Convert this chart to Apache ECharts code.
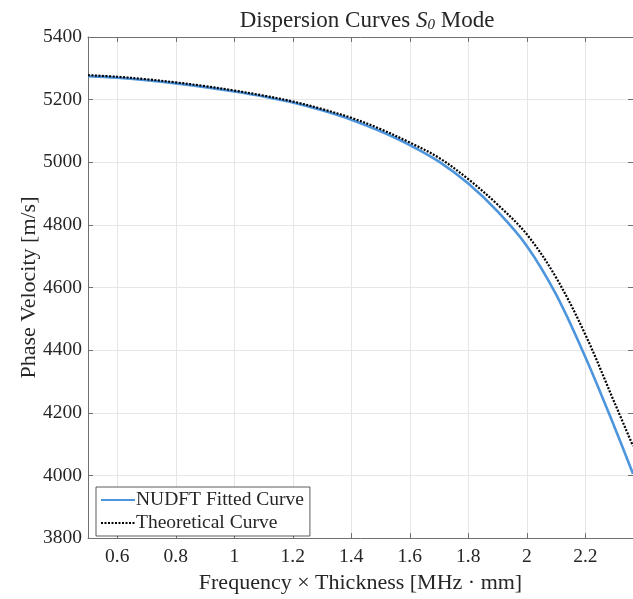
<!DOCTYPE html>
<html>
<head>
<meta charset="utf-8">
<script src="https://cdn.jsdelivr.net/npm/echarts@6/dist/echarts.min.js"></script>
<style>html,body{margin:0;padding:0;background:#fff}#c{width:633px;height:599px}</style>
</head>
<body>
<div id="c"></div>
<script>
const freqThickness = [0.5,0.6,0.7,0.8,0.9,1.0,1.1,1.2,1.3,1.4,1.5,1.6,1.7,1.8,1.9,2.0,2.1,2.2,2.3,2.363];
const nudftFitted = [5275,5270,5262,5252,5240,5226,5210,5191,5166,5136,5099,5055,5002,4932,4843,4733,4578,4378,4154,4005];
const theoretical = [5278,5273,5265,5255,5243,5229,5213,5194,5170,5142,5106,5063,5014,4946,4865,4770,4632,4450,4232,4094];
const xTicks = [0.6,0.8,1,1.2,1.4,1.6,1.8,2,2.2];
const yMin = 3800, yMax = 5400, yStep = 200;
const xMin = 0.5, xMax = 2.363;

const FONT = '"Liberation Serif", "DejaVu Serif", serif';
const axisColor = '#707070';
const textColor = '#262626';
const gridColor = '#e6e6e6';

const chart = echarts.init(document.getElementById('c'), null, {renderer: 'canvas'});
const pairs = (xs, ys) => xs.map((x, i) => [x, ys[i]]);

chart.setOption({
  animation: false,
  backgroundColor: '#fff',
  title: {
    text: '{a|Dispersion Curves }{i|S}{s|0}{a| Mode}',
    left: 362, textAlign: 'center', top: 4,
    textStyle: {
      fontWeight: 'normal',
      rich: {
        a: {fontFamily: FONT, fontSize: 23, fontWeight: 'normal', color: textColor},
        i: {fontFamily: FONT, fontSize: 23, fontWeight: 'normal', fontStyle: 'italic', color: textColor},
        s: {fontFamily: FONT, fontSize: 15, fontWeight: 'normal', fontStyle: 'italic', color: textColor, padding: [9, 0, 0, 0]}
      }
    }
  },
  grid: {left: 88, right: 0, top: 37, bottom: 55, containLabel: false},
  legend: {
    orient: 'vertical', left: 96, top: 487, z: 10,
    backgroundColor: '#fff', borderColor: '#333', borderWidth: 0.8,
    padding: [3, 6, 3, 4], itemWidth: 34, itemHeight: 12, itemGap: 3,
    itemStyle: {opacity: 0},
    textStyle: {fontFamily: FONT, fontSize: 19.5, color: textColor, padding: [0, 0, 0, -4]},
    data: ['NUDFT Fitted Curve', 'Theoretical Curve']
  },
  xAxis: [{
    type: 'value', min: xMin, max: xMax, position: 'bottom',
    name: 'Frequency \u00d7 Thickness [MHz \u00b7 mm]', nameLocation: 'middle', nameGap: 31,
    nameTextStyle: {fontFamily: FONT, fontSize: 22, color: textColor},
    axisLine: {show: true, lineStyle: {color: axisColor, width: 1}},
    axisTick: {show: true, inside: true, length: 5, customValues: xTicks, lineStyle: {color: axisColor}},
    axisLabel: {customValues: xTicks, fontFamily: FONT, fontSize: 19.5, color: textColor, margin: 9,
      formatter: v => String(+v.toFixed(1))},
    splitLine: {show: false}
  }, {
    type: 'value', min: xMin, max: xMax, position: 'top',
    axisLine: {show: true, lineStyle: {color: axisColor, width: 1}},
    axisTick: {show: true, inside: true, length: 5, customValues: xTicks, lineStyle: {color: axisColor}},
    axisLabel: {show: false}, splitLine: {show: false}
  }],
  yAxis: [{
    type: 'value', min: yMin, max: yMax, interval: yStep, position: 'left',
    name: 'Phase Velocity [m/s]', nameLocation: 'middle', nameGap: 48, nameRotate: 90,
    nameMoveOverlap: false,
    nameTextStyle: {fontFamily: FONT, fontSize: 22, color: textColor},
    axisLine: {show: true, lineStyle: {color: axisColor, width: 1}},
    axisTick: {show: true, inside: true, length: 5, lineStyle: {color: axisColor}},
    axisLabel: {fontFamily: FONT, fontSize: 19.5, color: textColor, margin: 6, formatter: v => String(v)},
    splitLine: {show: true, lineStyle: {color: gridColor, width: 1}}
  }, {
    type: 'value', min: yMin, max: yMax, interval: yStep, position: 'right',
    axisLine: {show: true, lineStyle: {color: axisColor, width: 1}},
    axisTick: {show: true, inside: true, length: 5, lineStyle: {color: axisColor}},
    axisLabel: {show: false}, splitLine: {show: false}
  }],
  series: [{
    name: 'gridX', type: 'line', data: [], z: 0, silent: true,
    markLine: {
      silent: true, symbol: 'none', animation: false, z: 0,
      label: {show: false},
      lineStyle: {color: gridColor, width: 1, type: 'solid'},
      data: xTicks.map(v => ({xAxis: v}))
    }
  }, {
    name: 'NUDFT Fitted Curve', type: 'line', data: pairs(freqThickness, nudftFitted),
    symbol: 'none', showSymbol: false, smooth: 0.35, z: 3,
    lineStyle: {color: '#4d95dc', width: 2.6}, itemStyle: {color: '#4d95dc'}
  }, {
    name: 'Theoretical Curve', type: 'line', data: pairs(freqThickness, theoretical),
    symbol: 'none', showSymbol: false, smooth: 0.35, z: 4,
    lineStyle: {color: '#000', width: 2.2, type: [2, 1.5]}, itemStyle: {color: '#000'}
  }]
});
</script>
</body>
</html>
